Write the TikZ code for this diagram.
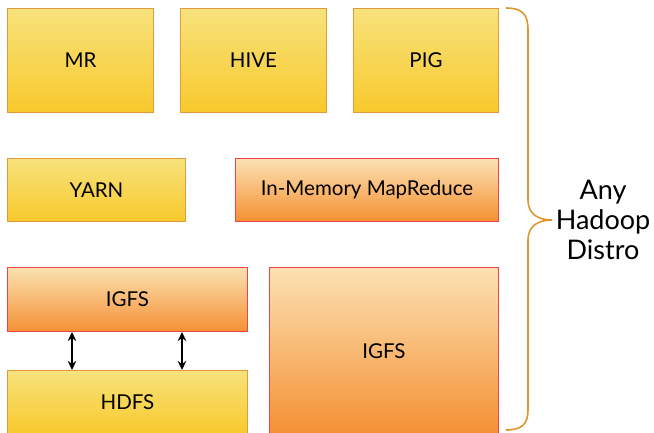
\documentclass[tikz,border=0pt]{standalone}
\usepackage{fontspec}
\setmainfont{Lato}
\usetikzlibrary{arrows.meta}
\definecolor{ytop}{HTML}{F7E27C}
\definecolor{ybot}{HTML}{F8C92C}
\definecolor{yborder}{HTML}{E39A3A}
\definecolor{otop}{HTML}{FBE1B2}
\definecolor{obot}{HTML}{F59033}
\definecolor{oborder}{HTML}{F0424A}
\definecolor{bracec}{HTML}{E0952F}
\tikzset{
  ybox/.style={draw=yborder, line width=1pt, top color=ytop, bottom color=ybot, anchor=north west, inner sep=0pt, font=\fontsize{20.5}{22}\selectfont},
  obox/.style={draw=oborder, line width=1pt, top color=otop, bottom color=obot, anchor=north west, inner sep=0pt, font=\fontsize{20.5}{22}\selectfont},
  dblarrow/.style={{Stealth[length=9pt,width=8.5pt]}-{Stealth[length=9pt,width=8.5pt]}, line width=2pt, black},
  bracestyle/.style={draw=bracec, line width=1.6pt},
  label/.style={align=center, font=\fontsize{27}{30}\selectfont}
}
\begin{document}
\begin{tikzpicture}[x=1pt,y=-1pt]
\useasboundingbox (0,0) rectangle (654,432);
\node[ybox, minimum width=146pt, minimum height=104pt] (mr) at (7,8) {MR};
\node[ybox, minimum width=146pt, minimum height=104pt] (hive) at (180,8) {HIVE};
\node[ybox, minimum width=145pt, minimum height=104pt] (pig) at (353,8) {PIG};
\node[ybox, minimum width=178pt, minimum height=63pt] (yarn) at (7,158) {YARN};
\node[obox, minimum width=263pt, minimum height=63pt] (imr) at (235,158) {In-Memory MapReduce};
\node[obox, minimum width=240pt, minimum height=64pt] (igfs1) at (7,267) {IGFS};
\node[ybox, minimum width=240pt, minimum height=64pt] (hdfs) at (7,370) {HDFS};
\node[obox, minimum width=229pt, minimum height=167pt] (igfs2) at (269,267) {IGFS};
\draw[dblarrow] (igfs1.south west -| 72,0) -- (hdfs.north west -| 72,0);
\draw[dblarrow] (igfs1.south west -| 182,0) -- (hdfs.north west -| 182,0);
\draw[bracestyle] (506,8) .. controls (522,8) and (528,14) .. (528,30) -- (528,200) .. controls (528,214) and (538,220) .. (552,220) .. controls (538,220) and (528,226) .. (528,240) -- (528,410) .. controls (528,424) and (522,430) .. (506,430);
\node[label] (distro) at (603,220) {Any\\Hadoop\\Distro};
\end{tikzpicture}
\end{document}
